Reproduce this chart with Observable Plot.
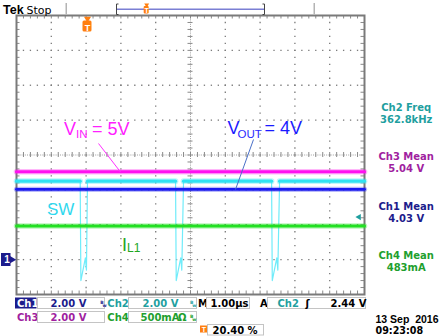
<!DOCTYPE html>
<html><head><meta charset="utf-8">
<script src="https://cdn.jsdelivr.net/npm/d3@7"></script>
<script src="https://cdn.jsdelivr.net/npm/@observablehq/plot@0.6"></script>
<style>html,body{margin:0;padding:0;background:#fff;}</style>
</head><body>
<script>
// ---------------- data ----------------
// time axis: 10 divisions at 1.00 µs/div
const flatTime = [0, 10];
const vinVolt = [5.04, 5.04];      // Ch3 (VIN)
const voutVolt = [4.03, 4.03];     // Ch1 (VOUT)
const ilAmp = [0.483, 0.483];      // Ch4 (IL1)
// Ch2 = SW node (µs, V)
const swHigh = 4.5;
const swTime = [0, 1.83, 1.85, 1.98, 2.01, 2.04, 4.57, 4.59, 4.72, 4.75, 4.80, 7.33, 7.35, 7.48, 7.51, 7.56, 10];
const swVolt = [4.5, 4.5, -1.2, 0.1, -0.6, 4.5, 4.5, -1.2, 0.1, -0.6, 4.5, 4.5, -1.2, 0.1, -0.6, 4.5, 4.5];
// channel settings
const chNames = ["Ch1", "Ch2", "Ch3", "Ch4"];
const chScaleText = ["2.00 V", "2.00 V", "2.00 V", "500mA"];
const chPerDiv = [2, 2, 2, 0.5];
const groundDiv = -3;
// measurements
const measLabels = ["Ch2 Freq", "Ch3 Mean", "Ch1 Mean", "Ch4 Mean"];
const measValues = ["362.8kHz", "5.04 V", "4.03 V", "483mA"];
const timebaseText = "1.00µs";
const trigSource = "Ch2";
const trigLevel = 2.44;
const trigLevelText = "2.44 V";
const trigPosPct = 20.40;
const dateText = "13 Sep  2016";
const timeText = "09:23:08";

// ---------------- helpers ----------------
const W = 447, H = 336, mL = 16, mR = 83, mT = 15, mB = 42;
const pxX = (W - mL - mR) / 10, pxY = (H - mT - mB) / 8;
const X = px => (px - mL) / pxX;           // page px -> div
const Y = py => 4 - (py - mT) / pxY;
const div = (v, ch) => groundDiv + v / chPerDiv[ch];

const navy = "#1c1c8c", teal = "#1f9f9f", purple = "#a01fa0", gtext = "#1f9f2f", orange = "#ff7f10";
const c1 = "#1a1af0", c2 = "#30e2f2", c3 = "#ff10f0", c4 = "#22e022";
const mono = "DejaVu Sans";
const gridCol = "#8a8a8a";

const T = (str, px, py, o = {}) => Plot.text([str], {x: () => X(px), y: () => Y(py), text: d => d,
  textAnchor: "start", lineAnchor: "bottom", fontFamily: mono, fontWeight: "bold", fontSize: 10, ...o});
const R = (x1, x2, y1, y2, o = {}) => Plot.rect([0], {x1: () => X(x1), x2: () => X(x2), y1: () => Y(y1), y2: () => Y(y2), ...o});
const L = (x1, y1, x2, y2, o = {}) => Plot.link([0], {x1: () => X(x1), y1: () => Y(y1), x2: () => X(x2), y2: () => Y(y2), ...o});
const bw = (px, py, col) => [T("B", px, py - 2.5, {fontSize: 4.5, fill: col}), T("w", px + 2.2, py, {fontSize: 4.5, fill: col})];

const series = (ts, vs, ch) => ts.map((t, i) => ({t, y: div(vs[i], ch)}));
const ch1 = series(flatTime, voutVolt, 0);
const ch3 = series(flatTime, vinVolt, 2);
const ch4 = series(flatTime, ilAmp, 3);
const ch2 = series(swTime, swVolt, 1);
const ch2High = [];
{ let s = 0; for (let i = 0; i < swTime.length - 1; i++) if (swVolt[i] === swHigh && swVolt[i + 1] === swHigh) { ch2High.push({...ch2[i], s}, {...ch2[i + 1], s}); s++; } }

const minorX = d3.range(0, 51).map(i => i / 5);
const minorY = d3.range(-20, 21).map(i => i / 5);
const majorX = [1, 2, 3, 4, 6, 7, 8, 9], majorY = [-3, -2, -1, 1, 2, 3];
const gridDots = [
  ...majorX.flatMap(x => minorY.slice(1, -1).map(y => ({x, y}))),
  ...majorY.flatMap(y => minorX.slice(1, -1).map(x => ({x, y})))
];
const tx = 3.5 / pxX, ty = 3.5 / pxY, cx = 2.5 / pxX, cy = 2.5 / pxY;
const trigX = trigPosPct / 10;

const trace = (data, col, w, z) => [
  Plot.line(data, {x: "t", y: "y", z, stroke: col, strokeWidth: w + 2.5, strokeOpacity: 0.3}),
  Plot.line(data, {x: "t", y: "y", z, stroke: col, strokeWidth: w})
];

const chart = Plot.plot({
  width: W, height: H, marginLeft: mL, marginRight: mR, marginTop: mT, marginBottom: mB,
  x: {domain: [0, 10], axis: null},
  y: {domain: [-4, 4], axis: null},
  color: {type: "identity"},
  style: {background: "#fff", fontFamily: mono},
  marks: [
    // graticule
    Plot.dot(gridDots, {x: "x", y: "y", symbol: "square", r: 0.75, fill: "#7c7c7c", stroke: null}),
    Plot.ruleX([5], {stroke: "#a0a0a0", strokeDasharray: "1,1.2"}),
    Plot.ruleY([0], {stroke: "#a0a0a0", strokeDasharray: "1,1.2"}),
    Plot.ruleX(minorX, {y1: -cy, y2: cy, stroke: gridCol}),
    Plot.ruleY(minorY, {x1: 5 - cx, x2: 5 + cx, stroke: gridCol}),
    Plot.ruleX(minorX, {y1: 4, y2: 4 - ty, stroke: gridCol}),
    Plot.ruleX(minorX, {y1: -4, y2: -4 + ty, stroke: gridCol}),
    Plot.ruleY(minorY, {x1: 0, x2: tx, stroke: gridCol}),
    Plot.ruleY(minorY, {x1: 10, x2: 10 - tx, stroke: gridCol}),
    Plot.frame({stroke: "#7a7a7a", strokeWidth: 2}),
    // traces
    Plot.line(ch2, {x: "t", y: "y", stroke: "#70ecfa", strokeWidth: 1.2}),
    ...trace(ch2High, c2, 3.2, "s"),
    ...trace(ch3, c3, 3.2),
    ...trace(ch1, c1, 2.8),
    ...trace(ch4, c4, 3),
    // annotations
    L(98, 143, 120, 171.5, {stroke: "#ff30ff", strokeWidth: 1}),
    L(253, 139, 235, 189, {stroke: "#4a70c8", strokeWidth: 1}),
    T("V", 63.5, 134, {fontFamily: "Liberation Sans", fontWeight: "normal", fontSize: 18, fill: "#ff20ff"}),
    T("IN", 75.5, 137, {fontFamily: "Liberation Sans", fontWeight: "normal", fontSize: 11.5, fill: "#ff20ff"}),
    T("= 5V", 91.5, 134, {fontFamily: "Liberation Sans", fontWeight: "normal", fontSize: 18, fill: "#ff20ff"}),
    T("V", 227, 133.5, {fontFamily: "Liberation Sans", fontWeight: "normal", fontSize: 18, fill: "#1a1aff"}),
    T("OUT", 237, 137, {fontFamily: "Liberation Sans", fontWeight: "normal", fontSize: 11.5, fill: "#2a2aff"}),
    T("= 4V", 264, 133.5, {fontFamily: "Liberation Sans", fontWeight: "normal", fontSize: 18, fill: "#1a1aff"}),
    T("SW", 46.5, 214, {fontFamily: "Liberation Sans", fontWeight: "normal", fontSize: 17, fill: "#30d8ee"}),
    T("I", 121.5, 250, {fontFamily: "Liberation Sans", fontWeight: "normal", fontSize: 18, fill: "#22a622"}),
    T("L1", 126.5, 251, {fontFamily: "Liberation Sans", fontWeight: "normal", fontSize: 12, fill: "#22a622"}),
    // trigger position marker (top)
    Plot.rect([trigX], {x1: d => d - 4.5 / pxX, x2: d => d + 4.5 / pxX, y1: () => Y(20.5), y2: () => Y(31.5), rx: 1.5, fill: orange}),
    Plot.dot([trigX], {x: d => d, y: () => Y(18.3), symbol: "triangle", rotate: 180, r: 2.6, fill: orange}),
    Plot.text([trigX], {x: d => d, y: () => Y(30), text: () => "T", fill: "white", fontWeight: "bold", fontSize: 9, fontFamily: "Liberation Sans", lineAnchor: "bottom"}),
    // trigger level marker (right)
    Plot.dot([trigLevel], {x: () => X(358.5), y: d => div(d, 1), symbol: "triangle", rotate: -90, r: 2.3, fill: teal}),
    // Ch1 ground marker (left)
    R(1, 10.5, 253, 266, {fill: navy}),
    Plot.dot([0], {x: () => X(10.5), y: () => groundDiv, symbol: "triangle", rotate: 90, r: 3.4, fill: navy}),
    Plot.text(["1"], {x: () => X(6.5), y: () => groundDiv, text: d => d, fill: "white", fontWeight: "bold", fontSize: 10, fontFamily: "Liberation Sans"}),
    // measurement readouts
    Plot.text(measLabels, {x: () => X(405.7), y: (d, i) => Y(110.5 + 49.4 * i), text: d => d, lineAnchor: "bottom",
      fill: (d, i) => [teal, purple, navy, gtext][i], fontFamily: mono, fontWeight: "bold", fontSize: 10}),
    Plot.text(measValues, {x: () => X(405.7), y: (d, i) => Y(122.2 + 49.4 * i), text: d => d, lineAnchor: "bottom",
      fill: (d, i) => [teal, purple, navy, gtext][i], fontFamily: mono, fontWeight: "bold", fontSize: 10}),
    // header
    T("Tek", 2.5, 13, {fontFamily: "Liberation Sans", fontSize: 12.5, fill: "#000"}),
    T("Stop", 26, 13, {fontWeight: "normal", fontSize: 11, fill: "#000"}),
    R(65.5, 67, 3, 14.5, {fill: "#b4b4b4"}),
    R(313.5, 315, 3, 14.5, {fill: "#b4b4b4"}),
    L(116, 8.7, 264, 8.7, {stroke: "#7b7fd4", strokeWidth: 1.5}),
    L(116, 3.5, 116, 14, {stroke: "#444", strokeWidth: 1}),
    L(116, 3.5, 118, 3.5, {stroke: "#444", strokeWidth: 1}),
    L(116, 14, 118, 14, {stroke: "#444", strokeWidth: 1}),
    L(264, 3.5, 264, 14, {stroke: "#444", strokeWidth: 1}),
    L(262, 3.5, 264, 3.5, {stroke: "#444", strokeWidth: 1}),
    L(262, 14, 264, 14, {stroke: "#444", strokeWidth: 1}),
    Plot.rect([trigPosPct], {x1: d => X(116 + 1.48 * d - 2.5), x2: d => X(116 + 1.48 * d + 2.5), y1: () => Y(6), y2: () => Y(13.5), rx: 1, fill: orange}),
    Plot.dot([trigPosPct], {x: d => X(116 + 1.48 * d), y: () => Y(4.5), symbol: "triangle", rotate: 180, r: 1.8, fill: orange}),
    Plot.text([trigPosPct], {x: d => X(116 + 1.48 * d), y: () => Y(12.8), text: () => "T", fill: "white", fontWeight: "bold", fontSize: 7, fontFamily: "Liberation Sans", lineAnchor: "bottom"}),
    // status bar row 1
    R(15, 36.5, 297.5, 308.5, {fill: navy}),
    T(chNames[0], 16.5, 306.8, {fill: "#fff"}),
    R(37.5, 104.5, 297.5, 308.5, {fill: "#fff", stroke: "#c4c4c4"}),
    T(chScaleText[0], 50, 306.8, {fill: navy}),
    ...bw(99.8, 306, navy),
    T(chNames[1], 106.8, 306.8, {fill: teal}),
    R(128.5, 196.5, 297.5, 308.5, {fill: "#fff", stroke: "#c4c4c4"}),
    T(chScaleText[1], 142, 306.8, {fill: teal}),
    ...bw(189.5, 306, teal),
    T("M", 197.5, 306.8, {fill: "#000"}),
    R(206.5, 249.5, 297.5, 308.5, {fill: "#fff", stroke: "#c4c4c4"}),
    T(timebaseText, 210, 306.8, {fill: "#000"}),
    T("A", 259.5, 306.8, {fill: "#000"}),
    R(267.5, 365.5, 297.5, 308.5, {fill: "#fff", stroke: "#c4c4c4"}),
    T(trigSource, 277, 306.8, {fill: teal}),
    T("ʃ", 305, 306.8, {fill: "#000"}),
    T(trigLevelText, 330, 306.8, {fill: "#000"}),
    // status bar row 2
    T(chNames[2], 16.5, 320.5, {fill: purple}),
    R(37.5, 104.5, 311.5, 322.5, {fill: "#fff", stroke: "#c4c4c4"}),
    T(chScaleText[2], 50, 320.5, {fill: purple}),
    T(chNames[3], 106.8, 320.5, {fill: gtext}),
    R(128.5, 196.5, 311.5, 322.5, {fill: "#fff", stroke: "#c4c4c4"}),
    T(chScaleText[3], 140, 320.5, {fill: gtext}),
    T("Ω", 177.5, 320.5, {fill: gtext}),
    ...bw(189.5, 320, gtext),
    T(dateText, 375, 322, {fill: "#000", fontFamily: "Liberation Sans", fontSize: 10.5}),
    // status bar row 3
    R(200, 207, 325.5, 332.5, {fill: orange}),
    T("T", 201.3, 331.8, {fill: "#fff", fontSize: 7, fontFamily: "Liberation Sans"}),
    R(207.5, 263.5, 324.5, 335, {fill: "#fff", stroke: "#c4c4c4"}),
    T(trigPosPct.toFixed(2) + " %", 212, 333.5, {fill: "#000"}),
    T(timeText, 375, 333.5, {fill: "#000", fontSize: 9.6})
  ]
});
document.body.appendChild(chart);
</script>
</body></html>
